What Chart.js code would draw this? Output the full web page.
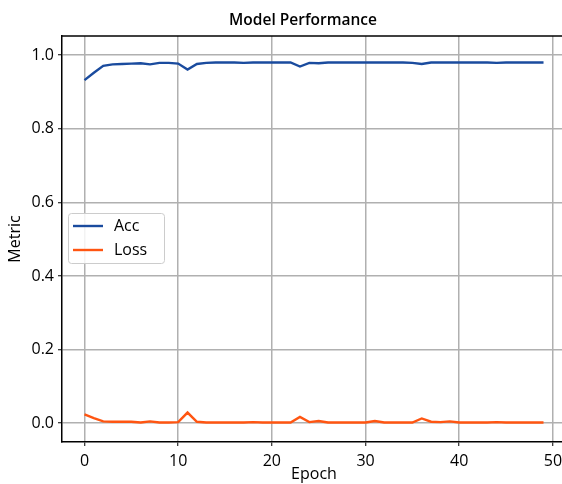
<!DOCTYPE html>
<html>
<head>
<meta charset="utf-8">
<title>Model Performance</title>
<script src="https://cdn.jsdelivr.net/npm/chart.js@4.4.0/dist/chart.umd.min.js"></script>
<style>
  html, body { margin: 0; padding: 0; background: #fff; overflow: hidden; }
  #wrap { position: relative; width: 570px; height: 484px; }
</style>
</head>
<body>
<div id="wrap"><canvas id="perfChart"></canvas></div>
<script>
// 训练过程数据
const epochs = [0, 1, 2, 3, 4, 5, 6, 7, 8, 9,
                10, 11, 12, 13, 14, 15, 16, 17, 18, 19,
                20, 21, 22, 23, 24, 25, 26, 27, 28, 29,
                30, 31, 32, 33, 34, 35, 36, 37, 38, 39,
                40, 41, 42, 43, 44, 45, 46, 47, 48, 49];
const accValues = [0.932, 0.952, 0.971, 0.975, 0.976, 0.977, 0.978, 0.975, 0.979, 0.979,
                   0.977, 0.961, 0.976, 0.979, 0.980, 0.980, 0.980, 0.979, 0.980, 0.980,
                   0.980, 0.980, 0.980, 0.969, 0.979, 0.978, 0.980, 0.980, 0.980, 0.980,
                   0.980, 0.980, 0.980, 0.980, 0.980, 0.979, 0.976, 0.980, 0.980, 0.980,
                   0.980, 0.980, 0.980, 0.980, 0.979, 0.980, 0.980, 0.980, 0.980, 0.980];
const lossValues = [0.024, 0.014, 0.005, 0.004, 0.004, 0.004, 0.002, 0.005, 0.002, 0.002,
                    0.003, 0.029, 0.004, 0.002, 0.002, 0.002, 0.002, 0.002, 0.003, 0.002,
                    0.002, 0.002, 0.002, 0.017, 0.003, 0.006, 0.002, 0.002, 0.002, 0.002,
                    0.002, 0.006, 0.002, 0.002, 0.002, 0.002, 0.013, 0.004, 0.003, 0.005,
                    0.002, 0.002, 0.002, 0.002, 0.003, 0.002, 0.002, 0.002, 0.002, 0.002];
const xTicks = [0, 10, 20, 30, 40, 50];
const yTicks = [0.0, 0.2, 0.4, 0.6, 0.8, 1.0];

const FONT = '"Open Sans", "DejaVu Sans", sans-serif';
const tickFont = { family: FONT, size: 16 };

// 标题和边框（顶部）
const framePlugin = {
    id: 'frame',
    afterDraw(chart) {
        const ctx = chart.ctx;
        const a = chart.chartArea;
        ctx.save();
        ctx.strokeStyle = '#000';
        ctx.lineWidth = 1.5;
        ctx.beginPath();
        ctx.moveTo(a.left, a.top);
        ctx.lineTo(a.right, a.top);
        ctx.stroke();

        ctx.fillStyle = '#000';
        ctx.font = '600 15.5px ' + FONT;
        ctx.textAlign = 'center';
        ctx.textBaseline = 'middle';
        ctx.fillText('Model Performance', 303, 21);
        ctx.restore();
    }
};

// 图例（放在图内左侧中间）
const legendPlugin = {
    id: 'innerLegend',
    afterDraw(chart) {
        const ctx = chart.ctx;
        const x = 68, y = 213, w = 96, h = 50;
        ctx.save();
        ctx.fillStyle = 'rgba(255,255,255,0.85)';
        ctx.strokeStyle = '#cccccc';
        ctx.lineWidth = 1;
        ctx.beginPath();
        ctx.roundRect(x + 0.5, y + 0.5, w, h, 3);
        ctx.fill();
        ctx.stroke();
        ctx.font = '16px ' + FONT;
        ctx.textBaseline = 'middle';
        ctx.textAlign = 'left';
        chart.data.datasets.forEach((ds, i) => {
            const cy = y + 13 + i * 24;
            ctx.strokeStyle = ds.borderColor;
            ctx.lineWidth = 2.4;
            ctx.beginPath();
            ctx.moveTo(x + 5, cy);
            ctx.lineTo(x + 35, cy);
            ctx.stroke();
            ctx.fillStyle = '#000';
            ctx.fillText(ds.label, x + 46, cy);
        });
        ctx.restore();
    }
};

const ctx = document.getElementById('perfChart').getContext('2d');
new Chart(ctx, {
    type: 'line',
    data: {
        datasets: [{
            label: 'Acc',
            data: epochs.map((e, i) => ({ x: e, y: accValues[i] })),
            borderColor: '#1a4b9e',
            borderWidth: 2.4,
            pointRadius: 0,
            tension: 0,
            fill: false
        }, {
            label: 'Loss',
            data: epochs.map((e, i) => ({ x: e, y: lossValues[i] })),
            borderColor: '#ff5511',
            borderWidth: 2.4,
            pointRadius: 0,
            tension: 0,
            fill: false
        }]
    },
    options: {
        responsive: true,
        maintainAspectRatio: false,
        animation: false,
        layout: { padding: { top: 36, right: 4, bottom: 0, left: 0 } },
        plugins: {
            legend: { display: false },
            title: { display: false },
            tooltip: { enabled: false }
        },
        scales: {
            x: {
                type: 'linear',
                min: -2.4,
                max: 51.4,
                afterBuildTicks: s => { s.ticks = xTicks.map(v => ({ value: v })); },
                afterFit: s => { s.height = 42; },
                grid: { color: '#b0b0b0', lineWidth: 1.5, tickColor: '#000', tickLength: 4, tickWidth: 1 },
                border: { color: '#000', width: 1.5 },
                ticks: { font: tickFont, color: '#000', padding: 6, maxRotation: 0, includeBounds: false },
                title: { display: true, text: 'Epoch', font: tickFont, color: '#000', padding: { top: 0, bottom: 0 } }
            },
            y: {
                min: -0.051,
                max: 1.052,
                afterBuildTicks: s => { s.ticks = yTicks.map(v => ({ value: v })); },
                afterFit: s => { s.width = 62; },
                grid: { color: '#b0b0b0', lineWidth: 1.5, tickColor: '#000', tickLength: 4, tickWidth: 1 },
                border: { color: '#000', width: 1.5 },
                ticks: { font: tickFont, color: '#000', padding: 4, includeBounds: false,
                         callback: v => Number(v).toFixed(1) },
                title: { display: true, text: 'Metric', font: tickFont, color: '#000', padding: { top: 6, bottom: 0 } }
            }
        }
    },
    plugins: [framePlugin, legendPlugin]
});
</script>
</body>
</html>
